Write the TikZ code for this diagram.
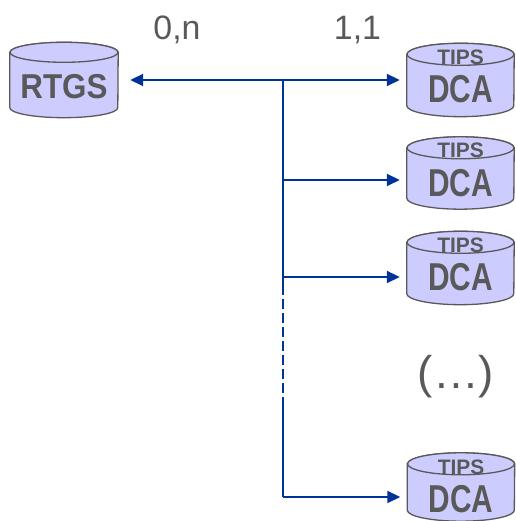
\documentclass[tikz,border=0pt]{standalone}
\usepackage{fontspec}
\setmainfont{Liberation Sans}
\usetikzlibrary{arrows.meta,calc}
\definecolor{lineblue}{HTML}{003399}
\definecolor{txtgray}{HTML}{595959}
\definecolor{cylfill}{HTML}{CCCCFF}
\tikzset{
  conn/.style={draw=lineblue, line width=1.8bp},
  arr/.style={conn, -{Triangle[length=13bp,width=12bp]}, shorten >=7bp},
  lbl/.style={text=txtgray, font=\fontsize{34}{40}\selectfont, inner sep=0},
  cylbody/.style={fill=cylfill, draw=txtgray, line width=1.3bp},
  cyltxt/.style={text=txtgray, inner sep=0},
}
\newcommand\dbcyl[6]{% name, cx, cy, w, h, ry
  \node[inner sep=0, minimum width=#4bp, minimum height=#5bp] (#1) at (#2,#3) {};
  \draw[cylbody] ($(#1.north west)+(0,-#6)$) -- ($(#1.south west)+(0,#6)$)
    arc[start angle=180,end angle=360,x radius=#4/2,y radius=#6]
    -- ($(#1.north east)+(0,-#6)$)
    arc[start angle=0,end angle=180,x radius=#4/2,y radius=#6] -- cycle;
  \draw[cylbody] ($(#1.north)+(0,-#6)$) ellipse[x radius=#4/2,y radius=#6];
}
\newcommand\tipsdca[1]{%
  \node[cyltxt, font=\bfseries\fontsize{21}{24}\selectfont] (#1-t) at ($(#1.north)+(0,-14)$) {TIPS};
  \node[cyltxt, font=\bfseries\fontsize{30}{34}\selectfont] (#1-d) at ($(#1.north)+(0,-46)$) {\scalebox{1}[1.3]{DCA}};
}
\begin{document}
\begin{tikzpicture}[x=1bp,y=1bp]
\useasboundingbox (0,0) rectangle (516,521);
% cylinders
\dbcyl{rtgs}{64}{441}{108}{75}{10}
\node[cyltxt, font=\bfseries\fontsize{31.5}{36}\selectfont] (rtgst) at ($(rtgs.north)+(0,-44.5)$) {\scalebox{1}[1.1]{RTGS}};
\dbcyl{dcaA}{460.5}{441}{107}{73}{11}
\tipsdca{dcaA}
\dbcyl{dcaB}{460.5}{348}{107}{72}{11}
\tipsdca{dcaB}
\dbcyl{dcaC}{460.5}{253}{107}{73}{11}
\tipsdca{dcaC}
\dbcyl{dcaD}{461}{34}{107}{68}{11}
\tipsdca{dcaD}
% labels
\node[lbl, anchor=base] (l0n) at (177,481) {0,n};
\node[lbl, anchor=base] (l11) at (357.5,481) {1,1};
\node[text=txtgray, inner sep=0, anchor=base, font=\fontsize{46}{52}\selectfont] (dots) at (456,132.5) {(…)};
% junctions
\coordinate (j1) at (283,441);
\coordinate (j2) at (283,341);
\coordinate (j3) at (283,244);
\coordinate (d1) at (283,236);
\coordinate (d2) at (283,124);
\coordinate (j4) at (283,24);
% connectors
\draw[conn, {Triangle[length=13bp,width=12bp]}-{Triangle[length=13bp,width=12bp]}, shorten <=12bp, shorten >=7bp] (rtgs.east) -- (dcaA.west);
\draw[conn] (j1) -- (d1);
\draw[conn, dash pattern=on 10bp off 4bp] (d1) -- (d2);
\draw[conn] (d2) -- (j4);
\draw[arr] (j2) -- (j2 -| dcaB.west);
\draw[arr] (j3) -- (j3 -| dcaC.west);
\draw[arr] (j4) -- (j4 -| dcaD.west);
\end{tikzpicture}
\end{document}
